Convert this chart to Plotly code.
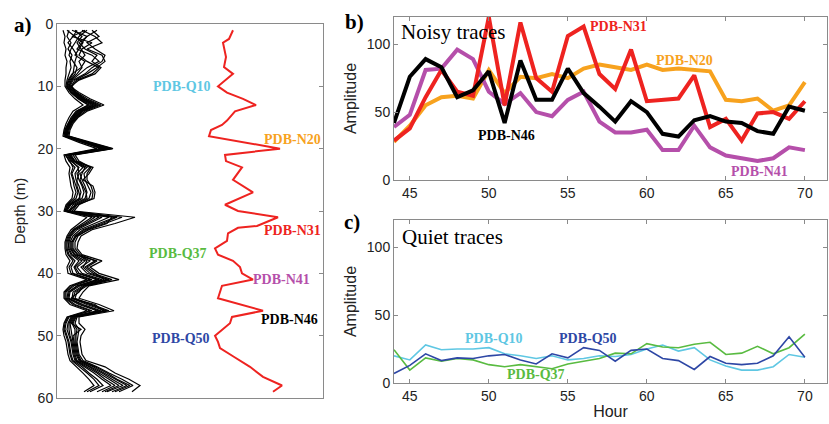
import plotly.graph_objects as go

# ---------------- Panel a data ----------------
depth_black = list(range(1, 60))
black_traces = [
    [6, 8, 7, 9, 8, 10, 9, 9, 8, 8, 12, 18, 26, 16, 12, 9, 7, 6, 22, 40,
     7, 9, 13, 12, 13, 14, 16, 15, 9, 7, 30, 22, 14, 10, 8, 8, 9, 13, 10, 11,
     30, 13, 7, 7, 13, 30, 10, 7, 6, 7, 9, 10, 11, 13, 20, 26, 32, 37, 27],
    [12, 10, 14, 11, 15, 13, 14, 12, 10, 9, 14, 21, 31, 19, 14, 11, 8, 7, 25, 45,
     9, 12, 18, 15, 17, 19, 21, 19, 11, 8, 38, 28, 17, 12, 10, 10, 12, 18, 14, 16,
     35, 17, 9, 9, 18, 35, 12, 9, 8, 10, 12, 13, 14, 16, 25, 32, 40, 46, 33],
    [20, 16, 11, 16, 20, 18, 17, 16, 12, 10, 15, 23, 34, 21, 16, 12, 9, 8, 27, 48,
     10, 14, 22, 18, 19, 22, 24, 22, 12, 9, 45, 33, 20, 14, 12, 11, 14, 22, 17, 20,
     40, 20, 11, 10, 22, 40, 14, 11, 10, 12, 14, 15, 16, 18, 28, 37, 45, 54, 40],
    [30, 22, 18, 14, 12, 16, 20, 18, 13, 11, 16, 25, 37, 23, 17, 13, 10, 9, 29, 50,
     12, 16, 26, 20, 22, 25, 27, 25, 14, 10, 52, 38, 23, 16, 13, 13, 17, 28, 20, 25,
     45, 23, 13, 12, 26, 44, 16, 13, 14, 15, 16, 17, 18, 20, 32, 42, 52, 62, 48],
    [40, 30, 25, 20, 35, 42, 30, 22, 15, 12, 18, 27, 40, 25, 18, 14, 11, 10, 31, 52,
     14, 18, 30, 23, 25, 28, 30, 28, 16, 12, 58, 42, 26, 18, 15, 15, 20, 33, 24, 30,
     50, 26, 16, 15, 30, 48, 18, 15, 18, 18, 18, 19, 20, 23, 36, 47, 58, 70, 55],
    [25, 38, 45, 30, 45, 48, 40, 30, 18, 14, 20, 30, 44, 28, 20, 15, 12, 11, 32, 55,
     16, 20, 33, 27, 28, 31, 34, 32, 20, 15, 65, 48, 30, 21, 18, 18, 23, 38, 28, 36,
     55, 30, 20, 18, 35, 52, 20, 18, 22, 21, 20, 21, 22, 26, 40, 52, 65, 76, 62],
    [35, 42, 30, 38, 48, 45, 35, 28, 16, 13, 22, 33, 47, 30, 21, 16, 13, 12, 34, 56,
     18, 22, 34, 30, 30, 34, 36, 35, 22, 17, 78, 58, 35, 24, 21, 20, 25, 45, 33, 42,
     62, 32, 26, 22, 42, 57, 22, 22, 28, 24, 23, 24, 25, 29, 48, 58, 72, 83, 75],
    [18, 25, 20, 24, 28, 22, 25, 20, 14, 12, 17, 24, 36, 22, 16, 12, 9, 9, 28, 47,
     11, 15, 21, 22, 20, 20, 22, 23, 13, 9, 42, 30, 18, 13, 11, 12, 15, 25, 18, 22,
     42, 21, 12, 11, 24, 42, 15, 12, 12, 13, 15, 16, 17, 19, 30, 40, 48, 58, 45],
    [10, 18, 26, 22, 18, 28, 24, 15, 11, 10, 14, 22, 32, 20, 15, 11, 8, 8, 26, 44,
     8, 13, 16, 14, 16, 17, 19, 17, 10, 8, 35, 25, 16, 11, 9, 9, 11, 16, 12, 14,
     33, 15, 8, 8, 16, 33, 11, 8, 7, 9, 11, 12, 13, 15, 23, 30, 37, 42, 30],
    [28, 15, 35, 25, 22, 30, 42, 35, 20, 15, 19, 28, 42, 26, 19, 14, 11, 10, 30, 53,
     13, 17, 28, 25, 23, 26, 29, 30, 18, 13, 60, 45, 28, 19, 16, 16, 21, 30, 26, 33,
     52, 28, 18, 16, 32, 50, 19, 16, 20, 19, 19, 20, 21, 24, 38, 50, 60, 73, 58],
    [15, 30, 22, 28, 40, 35, 44, 38, 22, 14, 18, 26, 39, 24, 18, 13, 10, 9, 29, 50,
     12, 18, 36, 32, 26, 36, 38, 37, 20, 11, 55, 50, 32, 20, 14, 14, 18, 40, 30, 38,
     47, 27, 22, 14, 38, 46, 17, 14, 24, 16, 17, 18, 19, 22, 34, 45, 55, 66, 50],
]

depth_red = [1, 2.4, 3, 4, 5.3, 6.9, 8, 10, 11, 12, 13, 14, 15.5, 16.2, 17, 18, 20, 21, 22, 23,
             25, 27, 29, 30, 31, 32.4, 32.7, 33.6, 34.8, 36, 37, 38, 39, 40, 41, 42, 44, 46,
             47, 48, 50, 51, 52, 53.3, 55, 56.6, 58, 59]
x_red = [176, 172, 166, 167, 169, 167, 176, 161, 170, 186, 199, 178, 170, 165, 154, 152, 223, 168, 169, 185,
         176, 196, 168, 181, 221, 200, 181, 171, 170, 158, 161, 176, 183, 185, 196, 165, 161, 206,
         175, 173, 158, 161, 163, 176, 193, 206, 225, 216]

# ---------------- Panel b / c data ----------------
hours = list(range(44, 71))
n31 = [29, 38, 61, 81, 65, 62, 120, 55, 116, 75, 65, 106, 113, 78, 67, 96, 58, 59, 60, 77,
       39, 45, 29, 49, 50, 45, 58]
n20 = [28, 40, 55, 61, 62, 60, 81, 64, 76, 75, 78, 75, 82, 85, 83, 81, 85, 81, 82, 81,
       80, 59, 58, 60, 51, 55, 72]
n41 = [39, 48, 81, 82, 96, 89, 65, 56, 64, 50, 47, 59, 65, 43, 35, 35, 37, 22, 22, 40,
       24, 18, 16, 14, 16, 24, 22]
n46 = [42, 76, 89, 83, 61, 66, 80, 42, 88, 59, 59, 82, 64, 54, 43, 58, 50, 34, 32, 44,
       47, 43, 42, 36, 34, 54, 51]

q10 = [20, 17, 28, 24.5, 25, 25, 26, 21.5, 20, 18, 20, 17, 18, 20, 19.5, 21, 25, 28, 23.5, 26,
       17, 12.5, 9.5, 9.5, 12, 21, 19]
q37 = [24.5, 9.5, 18.5, 16, 18, 17, 13.5, 12, 13.5, 12, 10.5, 14, 16, 18, 22, 21.5, 29, 26.5, 26, 28.5,
       30, 21, 22, 27, 21.5, 26, 36]
q50 = [7, 13, 21.5, 16.5, 18.5, 18, 20, 21, 17, 14, 21.5, 18.5, 26, 24, 16, 24, 25, 18, 16.5, 10,
       19.5, 14.5, 13.5, 14.5, 20, 34, 19]

C_RED = "#ee2320"
C_ORANGE = "#f7a21e"
C_PURPLE = "#b54faa"
C_BLACK = "#000000"
C_CYAN = "#5fc7e3"
C_GREEN = "#59bb41"
C_BLUE = "#2e47a5"

fig = go.Figure()

for tr in black_traces:
    fig.add_trace(go.Scatter(x=tr, y=depth_black, mode="lines",
                             line=dict(color="black", width=1.2), xaxis="x", yaxis="y",
                             showlegend=False, hoverinfo="skip"))
fig.add_trace(go.Scatter(x=x_red, y=depth_red, mode="lines", line=dict(color=C_RED, width=2),
                         xaxis="x", yaxis="y", showlegend=False))

for vals, col in [(n20, C_ORANGE), (n41, C_PURPLE), (n31, C_RED), (n46, C_BLACK)]:
    fig.add_trace(go.Scatter(x=hours, y=vals, mode="lines", line=dict(color=col, width=4),
                             xaxis="x2", yaxis="y2", showlegend=False))

for vals, col in [(q10, C_CYAN), (q37, C_GREEN), (q50, C_BLUE)]:
    fig.add_trace(go.Scatter(x=hours, y=vals, mode="lines", line=dict(color=col, width=1.6),
                             xaxis="x3", yaxis="y3", showlegend=False))

FRAME = "#8a8a8a"
TICKFONT = dict(family="Liberation Sans, Arial", size=14, color="#222")
common = dict(showline=True, linecolor=FRAME, linewidth=1, mirror="ticks", ticks="inside",
              ticklen=4, tickcolor=FRAME, showgrid=False, zeroline=False, tickfont=TICKFONT,
              automargin=False)

W, H = 829, 424
def px(x0, x1):
    return [x0 / W, x1 / W]
def py(top, bot):
    return [1 - bot / H, 1 - top / H]

fig.update_layout(
    width=W, height=H, margin=dict(l=0, r=0, t=0, b=0, autoexpand=False),
    paper_bgcolor="white", plot_bgcolor="white",
    xaxis=dict(domain=px(57, 323), range=[0, 266], showticklabels=False, ticks="",
               showline=True, linecolor=FRAME, mirror=True, showgrid=False, zeroline=False,
               anchor="y", automargin=False),
    yaxis=dict(domain=py(24, 398), range=[60, 0], tickvals=[0, 10, 20, 30, 40, 50, 60],
               title=dict(text="Depth (m)", font=dict(family="Liberation Sans, Arial", size=15, color="#222"),
                          standoff=8),
               anchor="x", **common),
    xaxis2=dict(domain=px(394, 827), range=[44, 71.4], tickvals=[45, 50, 55, 60, 65, 70],
                anchor="y2", **common),
    yaxis2=dict(domain=py(17, 180), range=[0, 120], tickvals=[0, 50, 100],
                title=dict(text="Amplitude", font=dict(family="Liberation Sans, Arial", size=16, color="#222"),
                           standoff=6),
                anchor="x2", **common),
    xaxis3=dict(domain=px(394, 827), range=[44, 71.4], tickvals=[45, 50, 55, 60, 65, 70],
                title=dict(text="Hour", font=dict(family="Liberation Sans, Arial", size=16, color="#222"),
                           standoff=3),
                anchor="y3", **common),
    yaxis3=dict(domain=py(220, 383), range=[0, 120], tickvals=[0, 50, 100],
                title=dict(text="Amplitude", font=dict(family="Liberation Sans, Arial", size=16, color="#222"),
                           standoff=6),
                anchor="x3", **common),
)

SERIF = "Liberation Serif, Times New Roman"
def lab(text, x, y, col, xref, yref, xanchor="center", size=14):
    fig.add_annotation(text="<b>%s</b>" % text, x=x, y=y, xref=xref, yref=yref, showarrow=False,
                       xanchor=xanchor, yanchor="middle",
                       font=dict(family=SERIF, size=size, color=col))

# panel a labels
lab("PDB-Q10", 156, 10.1, C_CYAN, "x", "y", "right")
lab("PDB-N20", 235.5, 18.5, C_ORANGE, "x", "y")
lab("PDB-N31", 235.5, 33.2, C_RED, "x", "y")
lab("PDB-Q37", 152, 36.8, C_GREEN, "x", "y", "right")
lab("PDB-N41", 224, 41.0, C_PURPLE, "x", "y")
lab("PDB-N46", 232.5, 47.4, C_BLACK, "x", "y")
lab("PDB-Q50", 155, 50.5, C_BLUE, "x", "y", "right")

# panel b labels
lab("PDB-N31", 58.2, 112.7, C_RED, "x2", "y2")
lab("PDB-N20", 62.4, 88, C_ORANGE, "x2", "y2")
lab("PDB-N46", 51.1, 33, C_BLACK, "x2", "y2")
lab("PDB-N41", 67.1, 6, C_PURPLE, "x2", "y2")
fig.add_annotation(text="Noisy traces", x=44.3, y=109, xref="x2", yref="y2", showarrow=False,
                   xanchor="left", yanchor="middle", font=dict(family=SERIF, size=21, color="black"))

# panel c labels
lab("PDB-Q10", 50.33, 33, C_CYAN, "x3", "y3")
lab("PDB-Q50", 56.28, 33, C_BLUE, "x3", "y3")
lab("PDB-Q37", 53.0, 5.9, C_GREEN, "x3", "y3")
fig.add_annotation(text="Quiet traces", x=44.38, y=107.6, xref="x3", yref="y3", showarrow=False,
                   xanchor="left", yanchor="middle", font=dict(family=SERIF, size=21, color="black"))

# panel letters
for t, x, y in [("a)", 23, 25), ("b)", 354, 22), ("c)", 352, 222)]:
    fig.add_annotation(text="<b>%s</b>" % t, x=x / W, y=1 - y / H, xref="paper", yref="paper",
                       showarrow=False, xanchor="center", yanchor="middle",
                       font=dict(family=SERIF, size=21, color="black"))

fig.write_html("out.html", config={"displayModeBar": False},
               post_script="document.body.style.margin='0';document.body.style.overflow='hidden';")
